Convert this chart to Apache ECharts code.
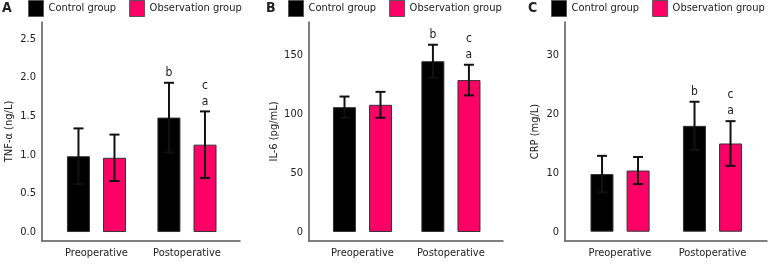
<!DOCTYPE html>
<html>
<head>
<meta charset="utf-8">
<script src="https://cdn.jsdelivr.net/npm/echarts@6/dist/echarts.min.js"></script>
<style>
  html, body { margin: 0; padding: 0; background: #fff; }
  #main { width: 768px; height: 264px; }
</style>
</head>
<body>
<div id="main"></div>
<script>
var myChart = echarts.init(document.getElementById('main'));

var categories = ['Preoperative', 'Postoperative'];
var groupNames = ['Control group', 'Observation group'];

// panel A - TNF-a
var tnfControl = [0.98, 1.48];
var tnfControlSd = [0.36, 0.45];
var tnfObs = [0.96, 1.13];
var tnfObsSd = [0.30, 0.43];
var tnfTicks = [0, 0.5, 1.0, 1.5, 2.0, 2.5];

// panel B - IL-6
var il6Control = [106, 145];
var il6ControlSd = [9, 14];
var il6Obs = [108, 129];
var il6ObsSd = [11, 13];
var il6Ticks = [0, 50, 100, 150];

// panel C - CRP
var crpControl = [9.8, 18.0];
var crpControlSd = [3.1, 4.1];
var crpObs = [10.4, 15.0];
var crpObsSd = [2.3, 3.8];
var crpTicks = [0, 10, 20, 30];

// significance letters (bottom to top)
var controlMarks = [[], ['b']];
var obsMarks = [[], ['a', 'c']];

var FONT = '"DejaVu Sans Condensed", "DejaVu Sans", sans-serif';
var BLACK = '#000000';
var PINK = '#ff0066';

var panels = [
    {letter: 'A', name: 'TNF-α (ng/L)', ctrl: tnfControl, ctrlSd: tnfControlSd, obs: tnfObs, obsSd: tnfObsSd,
     ticks: tnfTicks, dec: 1, left: 42, width: 198, ymin: -0.116, ymax: 2.716, xmin: -0.602, xmax: 1.586,
     nameGap: 27, legendLeft: 28, letterLeft: 2},
    {letter: 'B', name: 'IL-6 (pg/mL)', ctrl: il6Control, ctrlSd: il6ControlSd, obs: il6Obs, obsSd: il6ObsSd,
     ticks: il6Ticks, dec: 0, left: 309, width: 194, ymin: -7.64, ymax: 178.3, xmin: -0.605, xmax: 1.589,
     nameGap: 29, legendLeft: 288, letterLeft: 266},
    {letter: 'C', name: 'CRP (mg/L)', ctrl: crpControl, ctrlSd: crpControlSd, obs: crpObs, obsSd: crpObsSd,
     ticks: crpTicks, dec: 0, left: 565, width: 202, ymin: -1.58, ymax: 35.66, xmin: -0.595, xmax: 1.589,
     nameGap: 24, legendLeft: 551, letterLeft: 528}
];

function errRender(offset, marks) {
    return function (params, api) {
        var idx = api.value(0), mean = api.value(1), sd = api.value(2);
        var top = api.coord([idx, mean + sd]);
        var bot = api.coord([idx, mean - sd]);
        var x = top[0] + offset;
        var cap = 5;
        var st = {stroke: '#111', lineWidth: 2};
        var children = [
            {type: 'line', shape: {x1: x, y1: top[1], x2: x, y2: bot[1]}, style: st},
            {type: 'line', shape: {x1: x - cap, y1: top[1], x2: x + cap, y2: top[1]}, style: st},
            {type: 'line', shape: {x1: x - cap, y1: bot[1], x2: x + cap, y2: bot[1]}, style: st}
        ];
        var m = marks[params.dataIndex] || [];
        m.forEach(function (t, k) {
            children.push({
                type: 'text',
                style: {text: t, x: x, y: top[1] - 10 - k * 16, align: 'center', verticalAlign: 'middle',
                        fill: '#222', font: '12px ' + FONT}
            });
        });
        return {type: 'group', children: children};
    };
}

var grid = [], xAxis = [], yAxis = [], series = [], legend = [], title = [];

panels.forEach(function (p, i) {
    grid.push({left: p.left, width: p.width, top: 22, height: 219});
    xAxis.push({
        type: 'value', gridIndex: i, min: p.xmin, max: p.xmax,
        axisLine: {onZero: false, lineStyle: {color: '#555', width: 1.5}},
        axisTick: {show: false},
        splitLine: {show: false},
        axisLabel: {
            customValues: [0, 1], margin: 7, color: '#222', fontSize: 11, fontFamily: FONT,
            formatter: function (v) { return categories[Math.round(v)]; }
        }
    });
    yAxis.push({
        type: 'value', gridIndex: i, min: p.ymin, max: p.ymax,
        name: p.name, nameLocation: 'middle', nameGap: p.nameGap,
        nameTextStyle: {color: '#222', fontSize: 11, fontFamily: FONT},
        axisLine: {show: true, onZero: false, lineStyle: {color: '#555', width: 1.5}},
        axisTick: {show: false},
        splitLine: {show: false},
        axisLabel: {
            customValues: p.ticks, margin: 6, color: '#222', fontSize: 11, fontFamily: FONT,
            formatter: function (v) { return v.toFixed(p.dec); }
        }
    });
    var ctrlData = p.ctrl.map(function (v, k) { return [k, v]; });
    var obsData = p.obs.map(function (v, k) { return [k, v]; });
    series.push({
        name: groupNames[0], type: 'bar', xAxisIndex: i, yAxisIndex: i,
        barWidth: 23, barGap: '57%', data: ctrlData,
        itemStyle: {color: BLACK, borderColor: '#333', borderWidth: 1}
    });
    series.push({
        name: groupNames[1], type: 'bar', xAxisIndex: i, yAxisIndex: i,
        barWidth: 23, barGap: '57%', data: obsData,
        itemStyle: {color: PINK, borderColor: '#333', borderWidth: 1}
    });
    series.push({
        type: 'custom', xAxisIndex: i, yAxisIndex: i, z: 5, silent: true,
        renderItem: errRender(-18, controlMarks),
        data: p.ctrl.map(function (v, k) { return [k, v, p.ctrlSd[k]]; })
    });
    series.push({
        type: 'custom', xAxisIndex: i, yAxisIndex: i, z: 5, silent: true,
        renderItem: errRender(18, obsMarks),
        data: p.obs.map(function (v, k) { return [k, v, p.obsSd[k]]; })
    });
    legend.push({
        data: groupNames, left: p.legendLeft, top: 0, padding: 0,
        itemWidth: 15, itemHeight: 16, itemGap: 13, icon: 'rect',
        itemStyle: {borderColor: '#555', borderWidth: 1},
        textStyle: {color: '#222', fontSize: 11, fontFamily: FONT}
    });
    title.push({
        text: p.letter, left: p.letterLeft, top: 1, padding: 0,
        textStyle: {color: '#222', fontSize: 14, fontWeight: 'bold', fontFamily: FONT}
    });
});

var option = {
    animation: false,
    title: title,
    legend: legend,
    grid: grid,
    xAxis: xAxis,
    yAxis: yAxis,
    series: series
};

myChart.setOption(option);
onresize = myChart.resize;
</script>
</body>
</html>
